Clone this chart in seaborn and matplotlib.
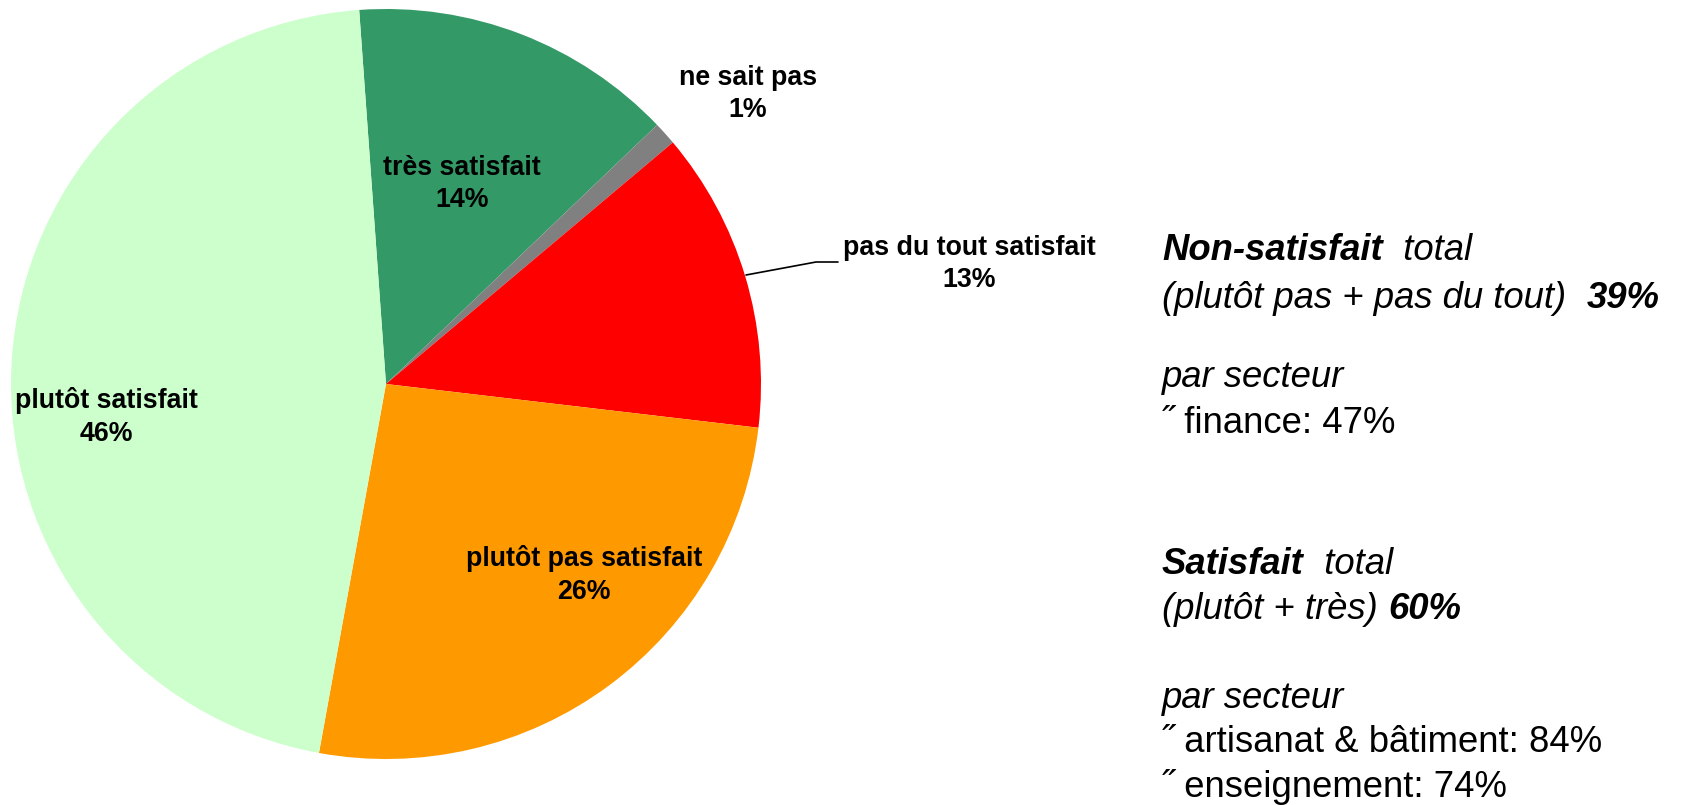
import matplotlib
matplotlib.use("Agg")
import matplotlib.pyplot as plt
import seaborn as sns

# ---- data ----
categories = ["très satisfait", "ne sait pas", "pas du tout satisfait",
              "plutôt pas satisfait", "plutôt satisfait"]
values = [14, 1, 13, 26, 46]
pct_labels = ["14%", "1%", "13%", "26%", "46%"]
colors = ["#339966", "#808080", "#FF0000", "#FF9900", "#CCFFCC"]

nonsat_total = "39%"
nonsat_sectors = ["finance: 47%"]
sat_total = "60%"
sat_sectors = ["artisanat & bâtiment: 84%", "enseignement: 74%"]

# ---- layout (image pixel coords, y downward) ----
W, H = 1682, 805
def Y(y):
    return H - y

label_pos = [(462, 184), (748, 94), (969, 264), (584, 575), (106, 417)]

sns.set_theme(style="white")
plt.rcParams["font.family"] = ["Liberation Sans", "DejaVu Sans"]

fig = plt.figure(figsize=(W / 100, H / 100), dpi=100)
ax = fig.add_axes([0, 0, 1, 1])

ax.pie(values, colors=colors, startangle=94.1, counterclock=False,
       center=(386, Y(384)), radius=375, frame=True,
       wedgeprops=dict(linewidth=0))

for cat, pct, (x, y) in zip(categories, pct_labels, label_pos):
    ax.text(x, Y(y), f"{cat}\n{pct}", ha="center", va="center",
            fontsize=19.3, fontweight="bold", color="black", linespacing=1.34)

# leader line for "pas du tout satisfait"
ax.plot([746, 816, 838], [Y(275), Y(262), Y(262)], color="black", lw=1.2)

ax.set_xlim(0, W)
ax.set_ylim(0, H)
ax.axis("off")

FS = 26.3
X0 = 1162

def seg_line(y, parts):
    prev = None
    for txt, bold in parts:
        kw = dict(fontsize=FS, style="italic",
                  fontweight="bold" if bold else "normal", color="black")
        if prev is None:
            prev = ax.text(X0, Y(y), txt, ha="left", va="baseline", **kw)
        else:
            prev = ax.annotate(txt, xy=(1, 0), xycoords=prev,
                               ha="left", va="bottom", **kw)

seg_line(260, [("Non-satisfait", True), ("  total", False)])
seg_line(308, [("(plutôt pas + pas du tout)  ", False), ("39%", True)])
seg_line(387, [("par secteur", False)])
for i, s in enumerate(nonsat_sectors):
    ax.text(X0, Y(433 + i * 44), "˝ " + s, ha="left", va="baseline",
            fontsize=FS, color="black")

seg_line(574, [("Satisfait", True), ("  total", False)])
seg_line(619, [("(plutôt + très) ", False), ("60%", True)])
seg_line(708, [("par secteur", False)])
for i, s in enumerate(sat_sectors):
    ax.text(X0, Y(752 + i * 44.5), "˝ " + s, ha="left", va="baseline",
            fontsize=FS, color="black")

fig.savefig("out.png", dpi=100, facecolor="white")
